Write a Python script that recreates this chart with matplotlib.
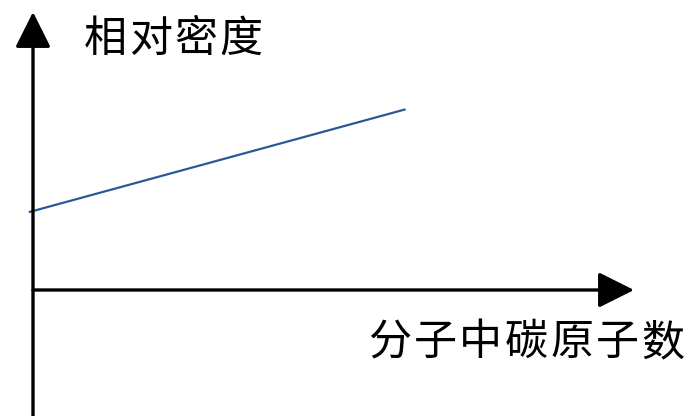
import matplotlib.pyplot as plt

plt.rcParams['font.family'] = ['Noto Sans CJK SC', 'DejaVu Sans']

# schematic data: relative density vs number of carbon atoms
carbon_atoms = [-0.07, 6.2]
rel_density = [2.8, 6.5]

y_label = "相对密度"
x_label = "分子中碳原子数"

W, H = 687, 416
fig = plt.figure(figsize=(W / 100, H / 100), dpi=100)
ax = fig.add_axes([0, 0, 1, 1])
ax.set_xlim(-33 / 60.1, (W - 33) / 60.1)
ax.set_ylim(-(H - 290) / 27.8, 290 / 27.8)
ax.axis('off')

arrow = dict(arrowstyle='-|>,head_length=2.2,head_width=1.1', lw=2.4,
             color='black', mutation_scale=10, shrinkA=0, shrinkB=0)
ax.annotate('', xy=(0, 10.0), xytext=(0, ax.get_ylim()[0]), arrowprops=arrow)
ax.annotate('', xy=(10.0, 0), xytext=(0, 0), arrowprops=arrow)

ax.plot(carbon_atoms, rel_density, color='#285a98', lw=1.6, solid_capstyle='butt')


def spaced_text(x0, y0, s, step):
    # the reference font has wide letter spacing, place glyphs one by one
    for i, ch in enumerate(s):
        fig.text((x0 + i * step) / W, 1 - y0 / H, ch, fontsize=31,
                 va='center', ha='left')


spaced_text(84, 40, y_label, 45)
spaced_text(368, 343, x_label, 45.5)

fig.savefig('out.png', dpi=100)
